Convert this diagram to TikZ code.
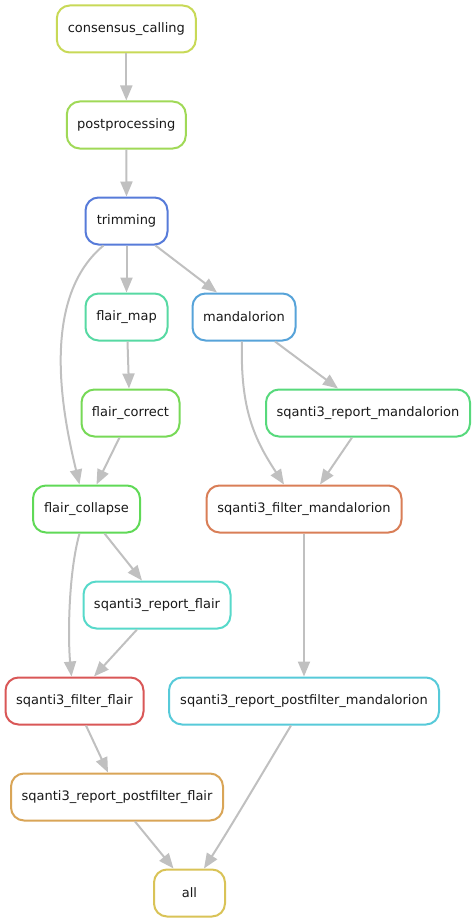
\documentclass[tikz,border=0pt]{standalone}
\usepackage{fontspec}
\setmainfont{DejaVu Sans}
\usetikzlibrary{arrows.meta}

% rule colours
\definecolor{cConsensus}{RGB}{200,217,87}
\definecolor{cPost}{RGB}{160,217,87}
\definecolor{cTrim}{RGB}{87,123,217}
\definecolor{cFmap}{RGB}{87,217,163}
\definecolor{cMand}{RGB}{87,163,217}
\definecolor{cFcorr}{RGB}{119,217,87}
\definecolor{cRepMand}{RGB}{87,217,124}
\definecolor{cFcoll}{RGB}{96,217,87}
\definecolor{cFiltMand}{RGB}{217,126,87}
\definecolor{cRepFlair}{RGB}{87,217,202}
\definecolor{cFiltFlair}{RGB}{217,87,87}
\definecolor{cRpfMand}{RGB}{87,202,217}
\definecolor{cRpfFlair}{RGB}{217,165,87}
\definecolor{cAll}{RGB}{217,195,87}
\definecolor{edgegray}{RGB}{192,192,192}

\begin{document}
\begin{tikzpicture}[x=1pt,y=-1pt,
  jobbox/.style={draw=#1, line width=2pt, rounded corners=13pt,
    minimum height=47pt, inner sep=0pt, fill=white,
    font=\fontsize{13}{15}\selectfont, text=black!90},
  dep/.style={draw=edgegray, line width=2pt,
    -{Triangle[length=15pt,width=12pt]}}]

\useasboundingbox (0,0) rectangle (476,923);

% rules
\node[jobbox=cConsensus, minimum width=139pt] (consensus) at (126.3,29) {consensus\_calling};
\node[jobbox=cPost, minimum width=119pt] (post) at (126.3,125) {postprocessing};
\node[jobbox=cTrim, minimum width=82pt] (trim) at (126.5,221) {trimming};
\node[jobbox=cFmap, minimum width=82pt] (fmap) at (126.5,317) {flair\_map};
\node[jobbox=cMand, minimum width=103pt] (mand) at (244,317) {mandalorion};
\node[jobbox=cFcorr, minimum width=98pt] (fcorr) at (130.5,413) {flair\_correct};
\node[jobbox=cRepMand, minimum width=204pt] (repmand) at (368,413) {sqanti3\_report\_mandalorion};
\node[jobbox=cFcoll, minimum width=107pt] (fcoll) at (86.5,509) {flair\_collapse};
\node[jobbox=cFiltMand, minimum width=195pt] (filtmand) at (304,509) {sqanti3\_filter\_mandalorion};
\node[jobbox=cRepFlair, minimum width=147pt] (repflair) at (157,605) {sqanti3\_report\_flair};
\node[jobbox=cFiltFlair, minimum width=138pt] (filtflair) at (74.5,701) {sqanti3\_filter\_flair};
\node[jobbox=cRpfMand, minimum width=270pt] (rpfmand) at (304,701) {sqanti3\_report\_postfilter\_mandalorion};
\node[jobbox=cRpfFlair, minimum width=212pt] (rpfflair) at (117,797) {sqanti3\_report\_postfilter\_flair};
\node[jobbox=cAll, minimum width=71pt] (all) at (189.5,893) {all};

% dependencies
\draw[dep] (consensus.south) -- (post.north);
\draw[dep] (post.south) -- (trim.north);
\draw[dep] (trim.south) -- (fmap.north);
\draw[dep] ([xshift=29pt]trim.south) -- ([xshift=-27pt]mand.north);
\draw[dep] ([xshift=-23pt]trim.south) .. controls (38,300) and (64,420) .. ([xshift=-7pt]fcoll.north);
\draw[dep] ([xshift=1pt]fmap.south) -- ([xshift=-1.5pt]fcorr.north);
\draw[dep] ([xshift=-11pt]fcorr.south) -- ([xshift=10pt]fcoll.north);
\draw[dep] ([xshift=31pt]mand.south) -- ([xshift=-30pt]repmand.north);
\draw[dep] ([xshift=-2pt]mand.south) .. controls (240,410) and (255,440) .. ([xshift=-20pt]filtmand.north);
\draw[dep] ([xshift=-16pt]repmand.south) -- ([xshift=16pt]filtmand.north);
\draw[dep] (filtmand.south) -- (rpfmand.north);
\draw[dep] ([xshift=18pt]fcoll.south) -- ([xshift=-15pt]repflair.north);
\draw[dep] ([xshift=-7pt]fcoll.south) .. controls (68,575) and (68,640) .. ([xshift=-3pt]filtflair.north);
\draw[dep] ([xshift=-20pt]repflair.south) -- ([xshift=19.5pt]filtflair.north);
\draw[dep] ([xshift=11.5pt]filtflair.south) -- ([xshift=-9pt]rpfflair.north);
\draw[dep] ([xshift=18pt]rpfflair.south) -- ([xshift=-16pt]all.north);
\draw[dep] ([xshift=-13pt]rpfmand.south) .. controls (275,752) and (232,825) .. ([xshift=14.5pt]all.north);

\end{tikzpicture}
\end{document}
